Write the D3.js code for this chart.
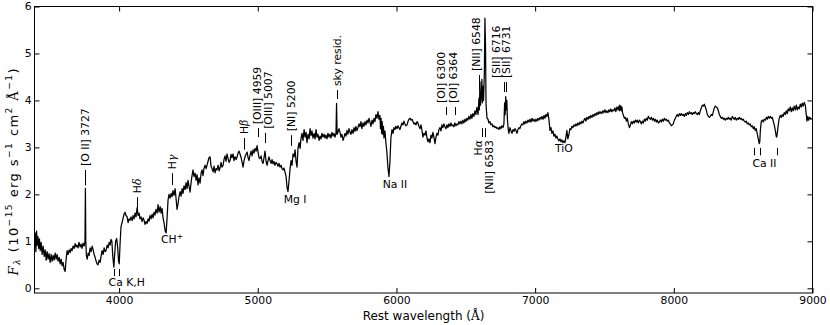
<!DOCTYPE html>
<html>
<head>
<meta charset="utf-8">
<script src="https://cdn.jsdelivr.net/npm/d3@7"></script>
<style>
  body { margin: 0; background: #fff; }
  svg { display: block; }
  text { font-family: "DejaVu Sans", sans-serif; fill: #000; }
</style>
</head>
<body>
<div class="chart"></div>
<script>
// spectrum (rest wavelength in Angstrom, flux in 1e-15 cgs)
var wavelength = [
  3390,3395,3400,3405,3410,3415,3420,3426,3431,3438,
  3445,3452,3460,3467,3474,3481,3488,3495,3503,3510,
  3517,3524,3531,3539,3546,3553,3560,3568,3575,3582,
  3589,3596,3604,3611,3618,3625,3632,3640,3647,3654,
  3661,3668,3676,3683,3690,3697,3704,3711,3719,3726,
  3733,3740,3748,3754,3757,3760,3764,3770,3777,3784,
  3791,3798,3806,3813,3820,3827,3834,3841,3848,3856,
  3863,3870,3877,3885,3892,3899,3906,3914,3921,3928,
  3935,3942,3948,3954,3962,3968,3975,3983,3990,3996,
  4001,4007,4014,4022,4029,4036,4043,4050,4058,4065,
  4072,4079,4086,4094,4101,4108,4115,4122,4130,4137,
  4144,4151,4158,4166,4173,4180,4187,4194,4202,4209,
  4216,4223,4230,4238,4245,4252,4259,4266,4274,4281,
  4288,4296,4303,4310,4317,4325,4332,4339,4346,4353,
  4360,4368,4375,4382,4389,4396,4404,4411,4418,4425,
  4432,4440,4447,4454,4461,4468,4476,4483,4490,4497,
  4504,4512,4519,4526,4533,4540,4548,4555,4562,4569,
  4576,4584,4591,4598,4605,4612,4620,4627,4634,4641,
  4648,4656,4663,4670,4678,4685,4692,4699,4706,4714,
  4721,4728,4735,4742,4750,4757,4764,4771,4778,4786,
  4793,4800,4807,4814,4822,4829,4836,4844,4851,4858,
  4865,4872,4880,4887,4894,4901,4908,4916,4923,4930,
  4937,4944,4952,4959,4966,4973,4980,4988,4995,5002,
  5009,5016,5024,5031,5038,5045,5052,5060,5067,5074,
  5081,5088,5096,5103,5110,5117,5124,5132,5139,5146,
  5153,5160,5168,5175,5182,5189,5196,5204,5211,5218,
  5225,5233,5240,5247,5254,5262,5269,5276,5283,5290,
  5298,5305,5312,5319,5326,5334,5341,5348,5355,5362,
  5370,5377,5384,5391,5398,5406,5413,5420,5427,5434,
  5442,5449,5456,5463,5470,5478,5485,5492,5499,5506,
  5514,5521,5528,5535,5543,5550,5557,5564,5568,5572,
  5578,5586,5593,5600,5607,5615,5622,5629,5636,5643,
  5650,5658,5665,5672,5679,5687,5694,5701,5708,5715,
  5722,5730,5737,5744,5751,5759,5766,5773,5780,5788,
  5795,5802,5809,5816,5824,5831,5838,5845,5852,5860,
  5867,5874,5881,5885,5889,5893,5897,5901,5906,5910,
  5917,5924,5931,5939,5946,5953,5960,5968,5975,5982,
  5989,5996,6004,6011,6018,6025,6032,6040,6047,6054,
  6061,6068,6076,6083,6090,6098,6105,6112,6119,6126,
  6134,6141,6148,6155,6162,6170,6177,6184,6191,6198,
  6206,6213,6220,6227,6234,6242,6249,6256,6263,6270,
  6278,6285,6292,6299,6306,6314,6321,6328,6335,6342,
  6350,6357,6364,6371,6378,6386,6393,6400,6407,6414,
  6422,6429,6436,6443,6450,6458,6465,6472,6479,6486,
  6494,6501,6508,6515,6522,6530,6537,6544,6551,6559,
  6566,6573,6580,6588,6595,6598,6602,6606,6612,6616,
  6620,6624,6628,6634,6638,6642,6646,6653,6660,6667,
  6674,6681,6689,6696,6703,6710,6717,6725,6732,6739,
  6746,6753,6760,6768,6775,6780,6784,6788,6792,6796,
  6800,6806,6811,6818,6825,6833,6840,6847,6854,6862,
  6869,6876,6883,6890,6897,6905,6912,6919,6926,6933,
  6941,6948,6955,6963,6970,6977,6984,6991,6999,7006,
  7013,7020,7028,7035,7042,7049,7057,7064,7071,7078,
  7085,7092,7100,7107,7114,7121,7128,7136,7143,7150,
  7157,7164,7172,7179,7186,7193,7200,7208,7215,7222,
  7229,7236,7244,7251,7258,7265,7272,7280,7287,7294,
  7301,7308,7316,7323,7330,7337,7345,7352,7359,7366,
  7373,7381,7388,7395,7402,7410,7417,7424,7431,7438,
  7445,7453,7460,7467,7474,7481,7489,7496,7503,7510,
  7517,7525,7532,7539,7546,7553,7561,7568,7575,7582,
  7590,7597,7604,7608,7611,7615,7619,7622,7626,7630,
  7637,7644,7651,7658,7665,7672,7680,7687,7694,7701,
  7708,7716,7723,7730,7737,7744,7752,7759,7766,7773,
  7780,7788,7795,7802,7809,7816,7824,7831,7838,7845,
  7852,7860,7867,7874,7881,7889,7896,7903,7910,7917,
  7925,7932,7939,7946,7953,7961,7968,7975,7982,7989,
  7996,8004,8011,8018,8025,8033,8040,8047,8054,8061,
  8069,8076,8083,8090,8097,8105,8112,8119,8126,8133,
  8141,8148,8155,8162,8170,8177,8184,8191,8198,8206,
  8213,8220,8227,8234,8242,8249,8256,8263,8270,8278,
  8285,8292,8299,8306,8314,8321,8328,8335,8342,8350,
  8357,8364,8371,8378,8386,8393,8400,8407,8414,8422,
  8429,8436,8443,8450,8458,8465,8472,8479,8486,8494,
  8501,8508,8515,8522,8530,8537,8544,8551,8558,8566,
  8573,8580,8587,8594,8601,8609,8616,8620,8624,8631,
  8638,8645,8652,8660,8667,8674,8681,8688,8696,8703,
  8710,8717,8724,8732,8738,8742,8746,8753,8760,8768,
  8775,8782,8789,8796,8804,8811,8818,8825,8832,8840,
  8847,8854,8861,8868,8876,8883,8890,8897,8904,8912,
  8919,8926,8933,8940,8948,8955,8960,8966,8972,8980,
  8988,9000
];

var flux = [
  0.95,1.18,0.78,1.22,0.92,1.10,0.85,1.05,0.80,0.98,
  0.72,0.90,0.68,0.82,0.60,0.78,0.62,0.74,0.55,0.72,
  0.58,0.70,0.60,0.75,0.62,0.72,0.58,0.66,0.52,0.62,
  0.48,0.55,0.40,0.36,0.62,0.80,0.72,0.82,0.76,0.85,
  0.80,0.90,0.85,0.95,0.88,0.92,0.86,0.98,0.88,0.94,
  0.85,0.96,0.90,1.00,2.13,1.00,0.70,0.62,0.75,0.70,
  0.86,0.78,0.90,0.82,0.72,0.66,0.58,0.52,0.50,0.60,
  0.55,0.68,0.80,0.72,0.86,0.78,0.80,0.92,0.86,0.98,
  0.92,1.04,1.00,0.70,0.45,0.72,1.00,1.06,0.86,0.58,
  0.52,0.95,1.32,1.40,1.50,1.58,1.62,1.55,1.52,1.40,
  1.48,1.45,1.52,1.44,1.55,1.48,1.60,1.52,1.72,1.55,
  1.60,1.48,1.52,1.42,1.50,1.45,1.36,1.42,1.38,1.48,
  1.43,1.55,1.48,1.58,1.50,1.62,1.56,1.68,1.60,1.78,
  1.62,1.74,1.60,1.70,1.50,1.38,1.22,1.18,1.50,1.88,
  2.00,1.92,2.02,1.95,2.08,1.98,2.12,1.90,1.68,1.80,
  1.95,2.06,1.96,2.12,2.02,2.18,2.10,2.25,2.12,2.30,
  2.18,2.05,2.25,2.40,2.52,2.38,2.45,2.30,2.42,2.20,
  2.35,2.24,2.45,2.52,2.40,2.55,2.62,2.55,2.62,2.70,
  2.78,2.80,2.60,2.55,2.48,2.60,2.46,2.55,2.52,2.62,
  2.50,2.56,2.68,2.58,2.62,2.75,2.82,2.70,2.86,2.76,
  2.68,2.72,2.85,2.78,2.86,2.72,2.80,2.74,2.80,2.88,
  2.92,2.86,2.78,2.68,2.58,2.72,2.80,2.86,2.90,2.78,
  2.72,2.84,2.92,2.82,2.95,2.88,2.98,2.92,3.04,2.90,
  2.78,2.76,2.82,2.70,2.66,2.78,2.92,2.70,2.62,2.72,
  2.80,2.72,2.66,2.74,2.65,2.70,2.62,2.68,2.65,2.60,
  2.66,2.58,2.62,2.55,2.52,2.56,2.48,2.38,2.15,2.06,
  2.28,2.55,2.72,2.62,2.86,2.80,2.95,2.70,2.58,2.98,
  3.10,2.98,3.20,3.30,3.15,3.38,3.22,3.32,3.10,3.28,
  3.18,3.40,3.25,3.35,3.20,3.30,3.18,3.38,3.22,3.28,
  3.15,3.24,3.18,3.30,3.22,3.28,3.20,3.26,3.18,3.30,
  3.22,3.28,3.20,3.32,3.24,3.30,3.22,3.30,3.94,3.28,
  3.32,3.40,3.32,3.22,3.28,3.15,3.22,3.30,3.24,3.36,
  3.28,3.40,3.32,3.28,3.38,3.30,3.42,3.34,3.45,3.36,
  3.42,3.50,3.44,3.55,3.40,3.52,3.45,3.55,3.48,3.58,
  3.52,3.62,3.54,3.45,3.58,3.50,3.62,3.55,3.70,3.62,
  3.76,3.60,3.68,3.40,3.62,3.30,3.55,3.28,3.45,3.20,
  3.35,3.10,2.90,2.55,2.38,2.70,3.20,3.38,3.30,3.42,
  3.38,3.45,3.40,3.46,3.42,3.38,3.45,3.52,3.48,3.56,
  3.50,3.46,3.48,3.55,3.60,3.62,3.58,3.60,3.55,3.50,
  3.52,3.48,3.55,3.52,3.45,3.40,3.48,3.36,3.22,3.30,
  3.26,3.35,3.20,3.12,3.18,3.10,3.26,3.20,3.32,3.22,
  3.08,3.22,3.30,3.26,3.38,3.42,3.35,3.48,3.42,3.50,
  3.44,3.40,3.48,3.42,3.50,3.45,3.52,3.46,3.48,3.44,
  3.52,3.46,3.50,3.48,3.55,3.50,3.56,3.50,3.58,3.52,
  3.60,3.55,3.62,3.58,3.66,3.60,3.70,3.62,3.72,3.66,
  3.78,3.70,3.85,3.70,4.05,3.80,4.40,3.90,4.10,4.45,
  3.95,4.30,4.00,4.60,5.75,5.20,3.90,3.62,3.60,3.52,
  3.55,3.48,3.50,3.44,3.46,3.42,3.44,3.40,3.42,3.38,
  3.44,3.40,3.46,3.42,3.50,3.95,3.70,4.08,3.80,4.00,
  3.60,3.38,3.30,3.42,3.36,3.30,3.38,3.34,3.40,3.36,
  3.30,3.38,3.42,3.40,3.46,3.50,3.48,3.55,3.50,3.56,
  3.52,3.58,3.54,3.60,3.54,3.62,3.56,3.60,3.55,3.60,
  3.56,3.62,3.58,3.64,3.60,3.66,3.60,3.68,3.62,3.70,
  3.66,3.74,3.58,3.36,3.42,3.30,3.35,3.24,3.28,3.20,
  3.24,3.18,3.14,3.18,3.12,3.16,3.10,3.14,3.10,3.22,
  3.36,3.18,3.28,3.40,3.38,3.45,3.42,3.48,3.45,3.50,
  3.46,3.52,3.48,3.54,3.50,3.56,3.52,3.58,3.62,3.56,
  3.64,3.60,3.66,3.62,3.68,3.64,3.70,3.66,3.72,3.68,
  3.74,3.70,3.76,3.72,3.76,3.72,3.78,3.74,3.80,3.74,
  3.78,3.74,3.80,3.76,3.82,3.76,3.80,3.78,3.84,3.76,
  3.86,3.80,3.88,3.78,3.90,3.80,3.88,3.78,3.86,3.74,
  3.68,3.62,3.64,3.56,3.62,3.50,3.42,3.48,3.55,3.50,
  3.56,3.52,3.58,3.54,3.58,3.52,3.58,3.55,3.50,3.56,
  3.52,3.60,3.56,3.62,3.58,3.66,3.62,3.60,3.64,3.58,
  3.62,3.56,3.60,3.54,3.58,3.52,3.54,3.58,3.54,3.60,
  3.56,3.62,3.58,3.60,3.56,3.58,3.52,3.50,3.46,3.48,
  3.50,3.58,3.62,3.66,3.70,3.66,3.72,3.68,3.72,3.68,
  3.70,3.66,3.72,3.68,3.74,3.70,3.76,3.72,3.74,3.70,
  3.74,3.72,3.76,3.72,3.70,3.74,3.70,3.78,3.84,3.90,
  3.88,3.92,3.86,3.80,3.70,3.66,3.64,3.66,3.70,3.68,
  3.76,3.84,3.88,3.86,3.84,3.78,3.70,3.66,3.62,3.64,
  3.60,3.62,3.58,3.62,3.60,3.64,3.60,3.62,3.58,3.66,
  3.62,3.60,3.64,3.58,3.62,3.60,3.64,3.60,3.62,3.58,
  3.60,3.56,3.54,3.56,3.50,3.52,3.48,3.50,3.44,3.46,
  3.40,3.44,3.36,3.40,3.30,3.18,3.08,3.12,3.36,3.56,
  3.58,3.54,3.60,3.58,3.64,3.60,3.66,3.62,3.66,3.62,
  3.64,3.56,3.48,3.36,3.24,3.22,3.30,3.48,3.62,3.68,
  3.64,3.70,3.66,3.74,3.70,3.78,3.72,3.82,3.78,3.86,
  3.76,3.84,3.78,3.88,3.80,3.90,3.80,3.86,3.82,3.92,
  3.86,3.94,3.88,3.96,3.90,3.70,3.56,3.66,3.58,3.64,
  3.60,3.62
];

var xTicks = [4000, 5000, 6000, 7000, 8000, 9000];
var yTicks = [0, 1, 2, 3, 4, 5, 6];

// emission lines marked above the spectrum: tick from lo to hi (flux units)
var upperLines = [
  {label: [["[O II] 3727"]], wl: 3755, lo: 2.19, hi: 2.52},
  {label: [["H"], ["δ", "i"]], wl: 4130, lo: 1.70, hi: 1.94},
  {label: [["H"], ["γ", "i"]], wl: 4380, lo: 2.20, hi: 2.45},
  {label: [["H"], ["β", "i"]], wl: 4903, lo: 2.95, hi: 3.20},
  {label: [["[OIII] 4959"]], wl: 5002, textWl: 4995, lo: 3.22, hi: 3.41},
  {label: [["[OIII] 5007"]], wl: 5052, textWl: 5075, lo: 3.09, hi: 3.31},
  {label: [["[NI] 5200"]], wl: 5243, lo: 3.03, hi: 3.26},
  {label: [["sky resid."]], wl: 5571, lo: 4.03, hi: 4.22},
  {label: [["[OI] 6300"]], wl: 6357, textWl: 6320, lo: 3.69, hi: 3.86},
  {label: [["[OI] 6364"]], wl: 6422, textWl: 6410, lo: 3.69, hi: 3.86},
  {label: [["[NII] 6548"]], wl: 6595, textWl: 6572, lo: 4.22, hi: 4.54},
  {label: [["[SII] 6716"]], wl: 6775, textWl: 6718, lo: 4.18, hi: 4.39},
  {label: [["[SII] 6731"]], wl: 6792, textWl: 6792, lo: 4.18, hi: 4.39}
];

// emission lines marked below the spectrum
var lowerLines = [
  {label: [["H"], ["α", "i"]], wl: 6616, textWl: 6588, lo: 3.22, hi: 3.41},
  {label: [["[NII] 6583"]], wl: 6638, textWl: 6670, lo: 3.22, hi: 3.41}
];

// absorption features: ticks (optional) and a horizontal label
var absorption = [
  {label: [["Ca K,H"]], ticks: [3966, 4000], lo: 0.26, hi: 0.41, textWl: 4055, base: 0.05},
  {label: [["CH"], ["+", "sup"]], ticks: [], textWl: 4382, base: 0.96},
  {label: [["Mg I"]], ticks: [], textWl: 5269, base: 1.81},
  {label: [["Na II"]], ticks: [], textWl: 5989, base: 2.14},
  {label: [["TiO"]], ticks: [], textWl: 7208, base: 2.90},
  {label: [["Ca II"]], ticks: [8579, 8625, 8745], lo: 2.83, hi: 2.99, textWl: 8653, base: 2.58}
];

var W = 830, H = 325, FS = 10.8;

var svg = d3.select('.chart').append('svg')
  .attr('width', W)
  .attr('height', H);

var x = d3.scaleLinear().domain([3390, 9000]).range([34.5, 812.5]);
var y = d3.scaleLinear().domain([-0.1, 6]).range([293, 6.5]);

// writes text with italic / super / subscript pieces
function richText(sel, parts, size) {
  var cur = 0;
  parts.forEach(function(p) {
    var mode = p[1] || '';
    var t = sel.append('tspan').text(p[0]);
    var tgt = 0, fs = size;
    if (mode.indexOf('sup') >= 0) { tgt = -0.42 * size; fs = 0.7 * size; }
    if (mode.indexOf('sub') >= 0) { tgt = 0.22 * size; fs = 0.7 * size; }
    if (mode === 'i' || mode.indexOf(' i') > 0) {
      t.style('font-family', '"DejaVu Serif", serif').style('font-style', 'italic');
    }
    if (mode.indexOf('serif') >= 0) t.style('font-family', '"DejaVu Serif", serif');
    t.attr('font-size', fs);
    if (tgt !== cur) { t.attr('dy', tgt - cur); cur = tgt; }
  });
}

// spectrum
svg.append('clipPath').attr('id', 'plotclip')
  .append('rect').attr('x', 34.5).attr('y', 6.5).attr('width', 778).attr('height', 286.5);

var pts = d3.range(Math.min(wavelength.length, flux.length)).map(function(i) {
  return [wavelength[i], flux[i]];
});

svg.append('path')
  .datum(pts)
  .attr('clip-path', 'url(#plotclip)')
  .attr('fill', 'none')
  .attr('stroke', '#000')
  .attr('stroke-width', 1.25)
  .attr('stroke-linejoin', 'round')
  .attr('d', d3.line().x(function(d) { return x(d[0]); }).y(function(d) { return y(d[1]); }));

// axes, ticks pointing inward
function styleAxis(g) {
  g.select('.domain').remove();
  g.selectAll('text').attr('font-size', FS).attr('font-family', '"DejaVu Sans", sans-serif').attr('fill', '#000');
  g.selectAll('line').attr('stroke', '#000');
}

svg.append('g').attr('transform', 'translate(0,293)')
  .call(d3.axisBottom(x).tickValues(xTicks).tickSize(-5).tickSizeOuter(0).tickPadding(3.5).tickFormat(d3.format('d')))
  .call(styleAxis);

svg.append('g').attr('transform', 'translate(0,6.5)')
  .call(d3.axisTop(x).tickValues(xTicks).tickSize(-5).tickSizeOuter(0).tickFormat(''))
  .call(styleAxis);

svg.append('g').attr('transform', 'translate(34.5,0)')
  .call(d3.axisLeft(y).tickValues(yTicks).tickSize(-5).tickSizeOuter(0).tickPadding(3).tickFormat(d3.format('d')))
  .call(styleAxis);

svg.append('g').attr('transform', 'translate(812.5,0)')
  .call(d3.axisRight(y).tickValues(yTicks).tickSize(-5).tickSizeOuter(0).tickFormat(''))
  .call(styleAxis);

svg.append('rect')
  .attr('x', 34.5).attr('y', 6.5).attr('width', 778).attr('height', 286.5)
  .attr('fill', 'none').attr('stroke', '#000').attr('stroke-width', 1);

// annotations
var ann = svg.append('g');

function tick(wl, lo, hi) {
  var xp = Math.round(x(wl)) + 0.5;
  ann.append('line')
    .attr('x1', xp).attr('x2', xp)
    .attr('y1', y(lo)).attr('y2', y(hi))
    .attr('stroke', '#000').attr('stroke-width', 1);
}

upperLines.forEach(function(d) {
  tick(d.wl, d.lo, d.hi);
  var t = ann.append('text')
    .attr('transform', 'translate(' + x(d.textWl || d.wl) + ',' + (y(d.hi) - 4) + ') rotate(-90)')
    .attr('font-size', FS)
    .attr('dy', '0.36em')
    .attr('text-anchor', 'start');
  richText(t, d.label, FS);
});

lowerLines.forEach(function(d) {
  tick(d.wl, d.lo, d.hi);
  var t = ann.append('text')
    .attr('transform', 'translate(' + x(d.textWl || d.wl) + ',' + (y(d.lo) + 3) + ') rotate(-90)')
    .attr('font-size', FS)
    .attr('dy', '0.36em')
    .attr('text-anchor', 'end');
  richText(t, d.label, FS);
});

absorption.forEach(function(d) {
  d.ticks.forEach(function(w) { tick(w, d.lo, d.hi); });
  var t = ann.append('text')
    .attr('x', x(d.textWl))
    .attr('y', y(d.base))
    .attr('font-size', FS)
    .attr('text-anchor', 'middle');
  richText(t, d.label, FS);
});

// axis titles
var xl = svg.append('text')
  .attr('x', 423.5).attr('y', 319.5)
  .attr('font-size', 12)
  .attr('text-anchor', 'middle');
richText(xl, [["Rest wavelength ("], ["Å", "serif"], [")"]], 12);

var yl = svg.append('text')
  .attr('transform', 'translate(13,172) rotate(-90)')
  .attr('font-size', 13)
  .attr('dy', '0.35em')
  .attr('text-anchor', 'middle')
  .attr('textLength', 207)
  .attr('lengthAdjust', 'spacing');
richText(yl, [["F", "i"], ["λ", "sub i"], [" (10"], ["−15", "sup"], [" erg s"], ["−1", "sup"],
  [" cm"], ["2", "sup"], [" "], ["Å", "serif"], ["−1", "sup"], [")"]], 13);
</script>
</body>
</html>
